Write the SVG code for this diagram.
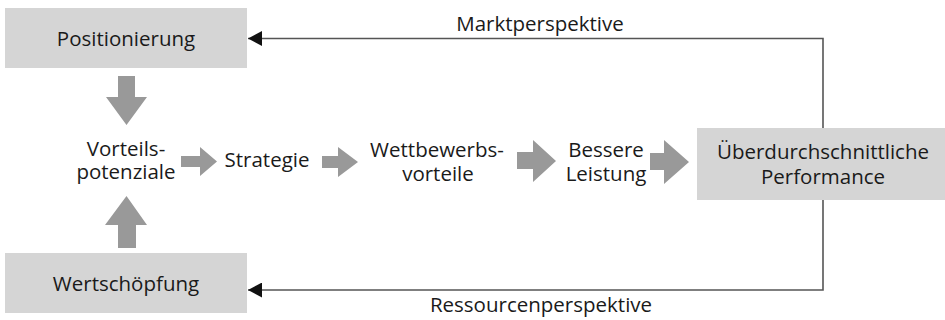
<svg xmlns="http://www.w3.org/2000/svg" width="945" height="320" viewBox="0 0 945 320">
  <style>
    .box { fill: #d5d5d5; }
    .lbl { font-family: "Open Sans", "Liberation Sans", sans-serif; font-size: 20.5px; fill: #1a1a1a; text-anchor: middle; }
    .flow { fill: #999999; }
    .conn { fill: none; stroke: #555555; stroke-width: 1.6; }
  </style>
  <defs>
    <!-- solid triangular head, tip on the path end -->
    <marker id="head" markerUnits="userSpaceOnUse" markerWidth="15" markerHeight="15" refX="14" refY="7.5" orient="auto" viewBox="0 0 15 15">
      <path d="M0,0 L14,7.5 L0,15 Z" fill="#111111"/>
    </marker>
  </defs>

  <g id="positionierung">
    <rect class="box" x="5" y="8" width="242" height="60"/>
    <text class="lbl" x="126" y="46">Positionierung</text>
  </g>

  <g id="wertschoepfung">
    <rect class="box" x="5" y="253" width="242" height="60"/>
    <text class="lbl" x="126" y="291">Wertschöpfung</text>
  </g>

  <g id="vorteilspotenziale">
    <text class="lbl"><tspan x="126" y="156">Vorteils-</tspan><tspan x="126" y="179">potenziale</tspan></text>
  </g>

  <g id="strategie">
    <text class="lbl" x="267" y="167">Strategie</text>
  </g>

  <g id="wettbewerbsvorteile">
    <text class="lbl"><tspan x="437" y="157">Wettbewerbs-</tspan><tspan x="438" y="181">vorteile</tspan></text>
  </g>

  <g id="bessere-leistung">
    <text class="lbl"><tspan x="606" y="157">Bessere</tspan><tspan x="606" y="181">Leistung</tspan></text>
  </g>

  <g id="performance">
    <rect class="box" x="697" y="128" width="248" height="72"/>
    <text class="lbl"><tspan x="823" y="159">Überdurchschnittliche</tspan><tspan x="823" y="184">Performance</tspan></text>
  </g>

  <g id="connectors">
    <!-- block arrows of the value chain -->
    <path class="flow" d="M118,76 H135 V97 H147 L126.5,125 L106,97 H118 Z"/>
    <path class="flow" d="M118,248 H136 V225 H147 L126.5,196 L105,225 H118 Z"/>
    <path class="flow" d="M181,156 H200 V147 L217,161.5 L200,176 V167 H181 Z"/>
    <path class="flow" d="M322,156 H338 V147 L358,162 L338,177 V168 H322 Z"/>
    <path class="flow" d="M517,152 H533 V140 L556,161 L533,182 V169 H517 Z"/>
    <path class="flow" d="M650,153 H664 V140 L689,162 L664,184 V170 H650 Z"/>

    <!-- feedback loops -->
    <path class="conn" d="M823,128 V38.5 H248" marker-end="url(#head)"/>
    <path class="conn" d="M823,200 V290 H248" marker-end="url(#head)"/>
    <text class="lbl" x="540" y="31">Marktperspektive</text>
    <text class="lbl" x="541" y="312">Ressourcenperspektive</text>
  </g>
</svg>
